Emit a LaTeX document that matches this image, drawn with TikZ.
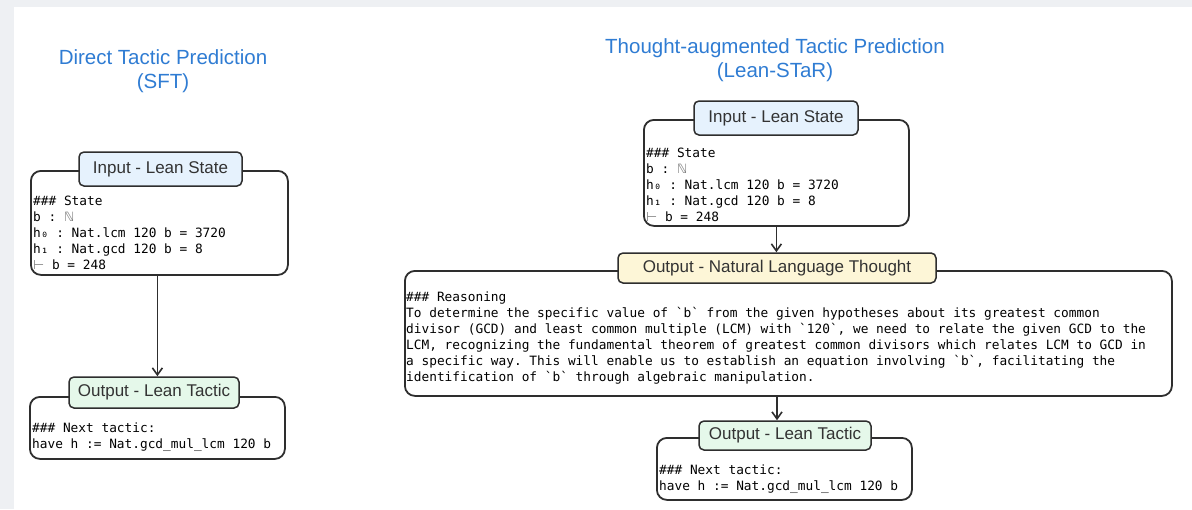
\documentclass[tikz,border=0pt]{standalone}
\usepackage{fontspec}
\setmainfont{Liberation Sans}
\setmonofont{DejaVu Sans Mono}
\newfontfamily\symf{DejaVu Sans}
\usetikzlibrary{arrows.meta}
\definecolor{linec}{HTML}{2E2E2E}
\definecolor{titleblue}{HTML}{2F7CD3}
\definecolor{lblue}{HTML}{E6F2FD}
\definecolor{lyellow}{HTML}{FDF6D7}
\definecolor{lgreen}{HTML}{E5F8EA}
\definecolor{bggray}{HTML}{EEF0F3}
\newcommand\bq{\symbol{"60}}
\newcommand\natset{{\symf\color{gray}ℕ}}
\newcommand\turnst{{\symf\color{gray}⊢}}
\tikzset{
  bigbox/.style={draw=linec, line width=1.8pt, rounded corners=10pt, fill=white, inner sep=0pt, anchor=north west},
  lab/.style={draw=linec, line width=1.5pt, rounded corners=5pt, inner sep=0pt, font=\fontsize{17}{20}\selectfont, text=black!80},
  code/.style={anchor=north west, inner sep=0pt, align=left, font=\ttfamily\frenchspacing\fontsize{12.8}{16}\selectfont, text=black},
  ttl/.style={align=center, text=titleblue, font=\fontsize{20.5}{24}\selectfont},
  arr/.style={draw=linec, line width=1.6pt, -{Straight Barb[length=7pt,width=10pt]}},
}
\begin{document}
\begin{tikzpicture}[x=1pt,y=-1pt]
\useasboundingbox (0,0) rectangle (1192,509);
\fill[bggray] (0,0) rectangle (1192,509);
\fill[white] (14,7) rectangle (1192,509);

% titles
\node[ttl] (t1) at (163,71) {Direct Tactic Prediction\\(SFT)};
\node[ttl] (t2) at (775,60) {Thought-augmented Tactic Prediction\\(Lean-STaR)};

% left column
\node[bigbox, minimum width=257, minimum height=104] (inbox1) at (30,170) {};
\node[lab, fill=lblue, minimum width=163, minimum height=34] (inlab1) at (160.5,169) {Input - Lean State};
\node[code] (intext1) at (33,195.3) {\#\#\# State\\b : \natset\\h₀ : Nat.lcm 120 b = 3720\\h₁ : Nat.gcd 120 b = 8\\\turnst{} b = 248};

\node[bigbox, minimum width=255, minimum height=62] (outbox1) at (29,396) {};
\node[lab, fill=lgreen, minimum width=170, minimum height=31] (outlab1) at (154,392.5) {Output - Lean Tactic};
\node[code] (outtext1) at (32,422.3) {\#\#\# Next tactic:\\have h := Nat.gcd\_mul\_lcm 120 b};

\draw[arr] (inbox1.south -| outbox1.north) -- (outlab1.north -| outbox1.north);

% right column
\node[bigbox, minimum width=265, minimum height=106] (inbox2) at (643,119) {};
\node[lab, fill=lblue, minimum width=164, minimum height=34] (inlab2) at (776,118) {Input - Lean State};
\node[code] (intext2) at (646,147.3) {\#\#\# State\\b : \natset\\h₀ : Nat.lcm 120 b = 3720\\h₁ : Nat.gcd 120 b = 8\\\turnst{} b = 248};

\node[bigbox, minimum width=767, minimum height=125] (thbox) at (404,270) {};
\node[lab, fill=lyellow, minimum width=318, minimum height=30] (thlab) at (777,268) {Output - Natural Language Thought};
\node[code] (thtext) at (406,291.3) {\#\#\# Reasoning\\
To determine the specific value of \bq b\bq{} from the given hypotheses about its greatest common\\
divisor (GCD) and least common multiple (LCM) with \bq 120\bq, we need to relate the given GCD to the\\
LCM, recognizing the fundamental theorem of greatest common divisors which relates LCM to GCD in\\
a specific way. This will enable us to establish an equation involving \bq b\bq, facilitating the\\
identification of \bq b\bq{} through algebraic manipulation.};

\node[bigbox, minimum width=255, minimum height=62] (outbox2) at (656,437) {};
\node[lab, fill=lgreen, minimum width=172, minimum height=29] (outlab2) at (785,435.5) {Output - Lean Tactic};
\node[code] (outtext2) at (659,464.3) {\#\#\# Next tactic:\\have h := Nat.gcd\_mul\_lcm 120 b};

\draw[arr] (inbox2.south) -- (inbox2.south |- thlab.north);
\draw[arr] (thbox.south -| thlab.north) -- (outlab2.north -| thlab.north);
\end{tikzpicture}
\end{document}
